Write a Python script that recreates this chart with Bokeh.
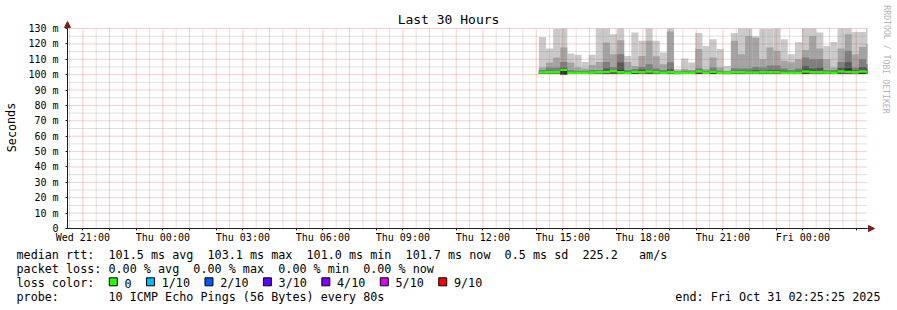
import pandas as pd
from bokeh.plotting import figure
from bokeh.models import Range1d, FixedTicker, Label, Arrow, NormalHead
from bokeh.embed import file_html
from bokeh.resources import INLINE

# ---------------- data ----------------
window_start = "2025-10-29 20:25:25"
window_end = "2025-10-31 02:25:25"
first_bin = "2025-10-30 14:06:00"
bin_minutes = 16

# sorted ping values per 16-minute bin (ms)
ping_max = [124.4, 117.0, 129.6, 131.0, 113.7, 112.9, 108.3, 112.9, 131.0, 131.0,
            126.3, 131.0, 112.2, 127.4, 122.0, 131.0, 122.0, 114.4, 131.0, 103.6,
            110.5, 107.9, 127.0, 118.7, 123.0, 116.6, 105.7, 127.0, 131.0, 131.0,
            125.0, 129.6, 129.6, 131.0, 123.0, 113.3, 121.0, 131.0, 131.0, 127.4,
            118.7, 121.3, 131.0, 131.0, 127.8, 127.8, 131.0]
ping_p9 = [104.6, 107.9, 111.1, 117.6, 107.9, 104.6, 104.0, 106.2, 108.3, 120.9,
           113.3, 122.4, 108.3, 105.7, 112.2, 122.0, 112.0, 106.8, 128.0, 102.5,
           103.6, 103.0, 116.6, 103.6, 111.1, 104.6, 102.5, 122.0, 113.3, 125.2,
           124.0, 110.0, 117.6, 115.5, 109.0, 108.0, 110.0, 116.1, 125.2, 117.0,
           110.0, 104.6, 117.0, 126.3, 113.3, 118.0, 120.0]
ping_p8 = [103.0, 104.6, 104.6, 108.3, 103.0, 102.5, 102.5, 103.0, 103.0, 108.3,
           105.0, 113.3, 103.0, 103.6, 105.0, 106.8, 104.0, 103.0, 108.0, 102.0,
           102.5, 102.5, 104.2, 102.5, 104.6, 102.5, 102.0, 104.2, 104.0, 104.0,
           105.0, 104.6, 106.0, 106.0, 104.0, 103.0, 104.0, 111.1, 110.0, 110.0,
           103.0, 103.0, 108.3, 115.5, 104.6, 110.0, 107.0]
ping_p7 = [102.2, 102.6, 102.4, 104.5, 102.2, 102.0, 102.0, 102.3, 102.3, 104.0,
           102.8, 107.9, 102.3, 102.5, 103.5, 103.0, 102.6, 102.2, 103.5, 101.8,
           102.0, 101.9, 103.0, 102.0, 102.5, 102.0, 101.8, 102.6, 102.5, 102.5,
           103.0, 102.6, 102.8, 103.0, 102.5, 102.2, 102.6, 105.7, 104.0, 104.5,
           102.3, 102.2, 104.5, 108.0, 102.8, 105.0, 104.0]
ping_p6 = [101.8, 101.9, 102.0, 103.6, 101.7, 101.5, 101.5, 101.8, 101.9, 102.5,
           102.5, 102.8, 101.7, 102.0, 102.2, 102.4, 102.0, 101.6, 102.2, 101.3,
           101.5, 101.6, 102.4, 101.6, 102.1, 101.6, 101.4, 102.0, 101.9, 101.8,
           101.9, 102.0, 102.0, 102.2, 101.7, 101.6, 101.7, 103.2, 102.0, 102.3,
           101.8, 101.6, 102.6, 104.0, 102.0, 102.6, 102.2]
ping_median = [101.4, 101.5, 101.6, 103.1, 101.3, 101.2, 101.2, 101.4, 101.5, 101.8,
               102.2, 101.6, 101.3, 101.7, 101.5, 102.0, 101.6, 101.3, 101.6, 101.0,
               101.2, 101.3, 102.0, 101.3, 101.8, 101.3, 101.1, 101.6, 101.5, 101.4,
               101.4, 101.6, 101.5, 101.6, 101.3, 101.3, 101.3, 102.1, 101.5, 101.6,
               101.4, 101.3, 102.0, 101.8, 101.6, 102.1, 101.7]
ping_min = [100.4, 100.8, 100.8, 100.1, 100.8, 100.9, 100.9, 100.8, 100.8, 100.7,
            100.7, 100.8, 100.8, 100.5, 100.8, 100.7, 100.8, 100.8, 100.8, 100.6,
            100.7, 100.8, 100.6, 100.8, 100.6, 100.8, 100.6, 100.8, 100.8, 100.8,
            100.8, 100.8, 100.8, 100.8, 100.8, 100.8, 100.8, 100.6, 100.8, 100.8,
            100.8, 100.8, 100.8, 100.8, 100.8, 100.5, 100.8]

y_ticks = [0, 10, 20, 30, 40, 50, 60, 70, 80, 90, 100, 110, 120, 130]
y_minor_ticks = [5, 15, 25, 35, 45, 55, 65, 75, 85, 95, 105, 115, 125]
y_tick_labels = ["0", "10 m", "20 m", "30 m", "40 m", "50 m", "60 m", "70 m",
                 "80 m", "90 m", "100 m", "110 m", "120 m", "130 m"]

x_label_times = ["2025-10-29 21:00", "2025-10-30 00:00", "2025-10-30 03:00",
                 "2025-10-30 06:00", "2025-10-30 09:00", "2025-10-30 12:00",
                 "2025-10-30 15:00", "2025-10-30 18:00", "2025-10-30 21:00",
                 "2025-10-31 00:00"]
x_tick_labels = ["Wed 21:00", "Thu 00:00", "Thu 03:00", "Thu 06:00", "Thu 09:00",
                 "Thu 12:00", "Thu 15:00", "Thu 18:00", "Thu 21:00", "Fri 00:00"]

loss_labels = ["0", "1/10", "2/10", "3/10", "4/10", "5/10", "9/10"]
loss_colors = ["#26ff00", "#00b8ff", "#0059ff", "#5e00ff", "#7e00ff", "#dd00ff", "#ff0000"]
smoke_colors = ["#cacaca", "#a4a4a4", "#7e7e7e", "#585858", "#323232"]

legend_line1 = "median rtt:  101.5 ms avg  103.1 ms max  101.0 ms min  101.7 ms now  0.5 ms sd  225.2   am/s"
legend_line2 = "packet loss: 0.00 % avg  0.00 % max  0.00 % min  0.00 % now"
legend_line3 = "loss color:"
legend_line4 = "probe:       10 ICMP Echo Pings (56 Bytes) every 80s"
end_text = "end: Fri Oct 31 02:25:25 2025"
title_text = "Last 30 Hours"
y_axis_title = "Seconds"
credit_text = "RRDTOOL / TOBI OETIKER"

# ---------------- helpers ----------------
def ms(ts):
    return pd.Timestamp(ts).value / 1e6

t0, t1 = ms(window_start), ms(window_end)
n = len(ping_median)
bin_ms = bin_minutes * 60 * 1000.0
lefts = [ms(first_bin) + i * bin_ms for i in range(n)]
rights = [min(l + bin_ms, t1) for l in lefts]

W, H = 897, 310
FL, FT, FW, FH = 67, 28, 800, 200   # graph area inside the canvas (px)
YMAX = 130.0
SPAN = t1 - t0

def dx(cx):   # canvas x pixel -> data x
    return t0 + (cx - FL) * SPAN / FW

def dy(cy):   # canvas y pixel -> data y
    return (FT + FH - cy) * YMAX / FH

FONT = "DejaVu Sans Mono"

p = figure(width=W, height=H, x_range=Range1d(dx(0), dx(W)), y_range=Range1d(dy(H), dy(0)),
           min_border_left=0, min_border_right=0, min_border_top=0, min_border_bottom=0,
           toolbar_location=None, output_backend="svg", title=None,
           background_fill_color="white", border_fill_color="white",
           outline_line_color=None)
p.xgrid.visible = False
p.ygrid.visible = False

# smoke bands
tops = [ping_max, ping_p9, ping_p8, ping_p7, ping_p6]
for top, col in zip(tops, smoke_colors):
    p.quad(left=lefts, right=rights, bottom=ping_min, top=[min(v, YMAX) for v in top],
           fill_color=col, line_color=None)

# median line (thick band), colour = loss 0
p.quad(left=lefts, right=rights,
       bottom=[m - 0.8 for m in ping_median], top=[m + 0.8 for m in ping_median],
       fill_color=loss_colors[0], line_color=None)

# grid (drawn over the smoke, like rrdtool)
hour_ticks = [ms(t) for t in pd.date_range("2025-10-29 21:00", "2025-10-31 02:00", freq="h")]
half_ticks = [ms(t) for t in pd.date_range("2025-10-29 20:30", "2025-10-31 01:30", freq="h")]
grey = dict(line_color="#8f8f8f", line_alpha=0.55, line_dash="1 1", line_width=1)
red = dict(line_color="#de5e5e", line_alpha=0.6, line_dash="1 1", line_width=1)
p.segment(x0=half_ticks, y0=0, x1=half_ticks, y1=YMAX, **grey)
p.segment(x0=t0, y0=y_minor_ticks, x1=t1, y1=y_minor_ticks, **grey)
p.segment(x0=hour_ticks, y0=0, x1=hour_ticks, y1=YMAX, **red)
p.segment(x0=t0, y0=y_ticks[1:], x1=t1, y1=y_ticks[1:], **red)

# axes, fixed at the graph area edges
label_map = {ms(t): lab for t, lab in zip(x_label_times, x_tick_labels)}
p.xaxis.ticker = FixedTicker(ticks=hour_ticks, minor_ticks=half_ticks)
p.xaxis.major_label_overrides = {t: label_map.get(t, "") for t in hour_ticks}
p.xaxis.fixed_location = 0
p.xaxis.bounds = (t0, t1)
p.yaxis.ticker = FixedTicker(ticks=y_ticks, minor_ticks=y_minor_ticks)
p.yaxis.major_label_overrides = dict(zip(y_ticks, y_tick_labels))
p.yaxis.fixed_location = t0
p.yaxis.bounds = (0, YMAX)

for ax in (p.xaxis, p.yaxis):
    ax.axis_line_color = "#1f1f1f"
    ax.major_tick_line_color = "#1f1f1f"
    ax.minor_tick_line_color = None
    ax.major_tick_in = 0
    ax.major_tick_out = 2
    ax.major_label_text_font = FONT
    ax.major_label_text_font_size = "10px"
    ax.major_label_text_color = "black"
p.xaxis.major_label_standoff = -1
p.yaxis.major_label_standoff = 5

# axis arrows
arrow_col = "#7f1f1f"
p.add_layout(Arrow(end=NormalHead(size=6, fill_color=arrow_col, line_color=arrow_col),
                   x_start=t0, y_start=YMAX, x_end=t0, y_end=dy(21),
                   line_color="#1f1f1f", line_width=1))
p.add_layout(Arrow(end=NormalHead(size=6, fill_color=arrow_col, line_color=arrow_col),
                   x_start=t1, y_start=0, x_end=dx(874), y_end=0,
                   line_color="#1f1f1f", line_width=1))

def text(cx, cy, s, size, align="left", angle=0.0, color="black"):
    # cy = vertical centre of the text; spaces kept as non-breaking so runs survive in SVG
    p.add_layout(Label(x=dx(cx), y=dy(cy), text=s.replace(" ", "\u00a0"), text_font=FONT,
                       text_font_size=f"{size}px", text_align=align,
                       text_baseline="middle", angle=angle, text_color=color))

LEG = 11.75
CW = 0.602 * LEG
text(448, 19, title_text, 13, align="center")
text(11, 127, y_axis_title, LEG, align="center", angle=1.5708)
text(886, 59, credit_text, 8.2, align="center", angle=-1.5708, color="#b4b4b4")
text(16, 254.5, legend_line1, LEG)
text(16, 268.5, legend_line2, LEG)
text(16, 282.5, legend_line3, LEG)
text(16, 296.5, legend_line4, LEG)
text(880, 296.5, end_text, LEG, align="right")

# loss colour legend: swatches + labels
cursor = 109.0
sw_x = []
for lab in loss_labels:
    sw_x.append(dx(cursor + 3.8))
    lx = cursor + 15
    text(lx, 282.5, lab, LEG)
    cursor = lx + (len(lab) + 2) * CW + 1
p.scatter(x=sw_x, y=[dy(281.3)] * len(sw_x), marker="square", size=8,
          fill_color=loss_colors, line_color="black", line_width=1)

open("out.html", "w").write(file_html(p, INLINE))
